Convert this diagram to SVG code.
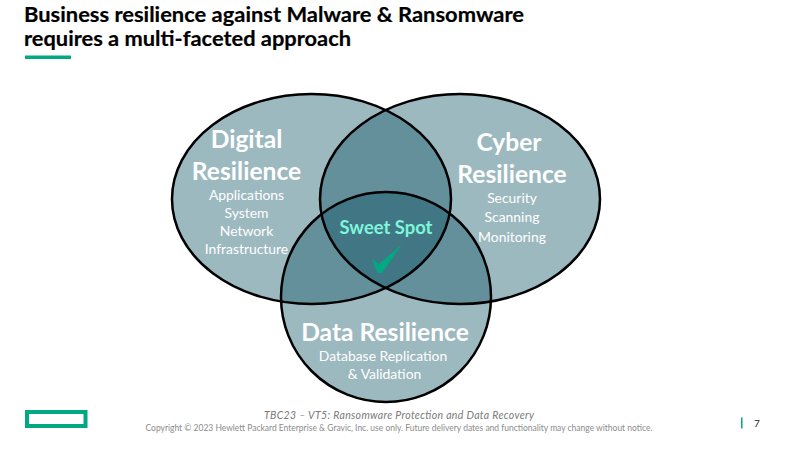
<svg xmlns="http://www.w3.org/2000/svg" width="800" height="450" viewBox="0 0 800 450">
<style>
text{font-family:"Lato","Carlito","Liberation Sans",sans-serif}
.v{fill:#105465;fill-opacity:.41}
.o{fill:none;stroke:#000;stroke-width:2.5}
.h{font-size:24.600px;font-weight:700;fill:#fff;text-anchor:middle}
.b{font-size:13.900px;fill:#fff;text-anchor:middle}
.t{font-size:21.500px;font-weight:700;fill:#000;stroke:#000;stroke-width:.2}
</style>
<rect width="800" height="450" fill="#fff"/>
<g id="title">
<text class="t" x="24" y="22" textLength="500" lengthAdjust="spacingAndGlyphs">Business resilience against Malware &amp; Ransomware</text>
<text class="t" x="24" y="46" textLength="327" lengthAdjust="spacingAndGlyphs">requires a multi-faceted approach</text>
<rect x="25" y="55.500" width="46" height="3.500" fill="#01a982"/>
</g>
<g id="digital">
<ellipse class="v" cx="311.500" cy="199" rx="139.500" ry="105"/>
</g>
<g id="cyber">
<ellipse class="v" cx="460" cy="199" rx="140" ry="105"/>
</g>
<g id="data">
<ellipse class="v" cx="386" cy="297" rx="105" ry="105"/>
</g>
<g id="outlines">
<ellipse class="o" cx="311.500" cy="199" rx="139.500" ry="105"/>
<ellipse class="o" cx="460" cy="199" rx="140" ry="105"/>
<ellipse class="o" cx="386" cy="297" rx="105" ry="105"/>
</g>
<g id="digital-text">
<text class="h" x="246.500" y="147.500">Digital</text>
<text class="h" x="246.500" y="179.500">Resilience</text>
<text class="b" x="246.500" y="199.500">Applications</text>
<text class="b" x="246.500" y="217.500">System</text>
<text class="b" x="246.500" y="235.500">Network</text>
<text class="b" x="246.500" y="253.500">Infrastructure</text>
</g>
<g id="cyber-text">
<text class="h" x="509" y="150.500">Cyber</text>
<text class="h" x="512" y="182.500">Resilience</text>
<text class="b" x="512" y="202.500">Security</text>
<text class="b" x="512" y="222">Scanning</text>
<text class="b" x="512" y="241.500">Monitoring</text>
</g>
<g id="data-text">
<text class="h" x="385" y="340.500">Data Resilience</text>
<text class="b" x="383" y="360.500">Database Replication</text>
<text class="b" x="384.500" y="378.500">&amp; Validation</text>
</g>
<g id="sweet-spot">
<text x="386" y="234" text-anchor="middle" font-size="18.400" font-weight="700" fill="#7ff5dc">Sweet Spot</text>
<path d="M372 259L379 264 L402 244.500 L382 273 L377.500 273Z" fill="#01a982"/>
</g>
<g id="footer">
<rect x="27" y="412" width="58.500" height="14" fill="none" stroke="#01a982" stroke-width="4"/>
<text x="399" y="419" text-anchor="middle" font-size="10.500" font-style="italic" fill="#7a7a7a" textLength="270" lengthAdjust="spacing">TBC23 – VT5: Ransomware Protection and Data Recovery</text>
<text x="399" y="431" text-anchor="middle" font-size="8.500" fill="#8c8c8c" textLength="507" lengthAdjust="spacing">Copyright © 2023 Hewlett Packard Enterprise &amp; Gravic, Inc. use only. Future delivery dates and functionality may change without notice.</text>
<rect x="741" y="417.500" width="1.500" height="11" fill="#01a982"/>
<text x="757" y="427" text-anchor="middle" font-size="10" fill="#222">7</text>
</g>
</svg>
